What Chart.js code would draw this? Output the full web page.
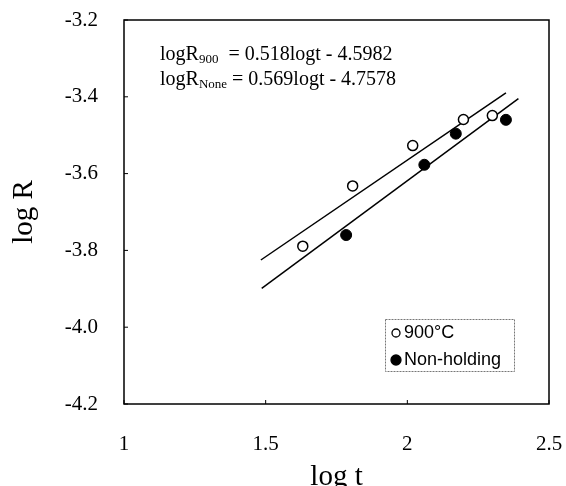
<!DOCTYPE html>
<html lang="en">
<head>
    <meta charset="UTF-8">
    <title>log R vs log t</title>
    <script src="https://cdn.jsdelivr.net/npm/chart.js"></script>
    <style>
        body {
            margin: 0;
            background: #ffffff;
        }

        .chart-box {
            width: 566px;
            height: 486px;
        }
    </style>
</head>
<body>
    <div class="chart-box"><canvas id="rateChart"></canvas></div>

    <script>
        const t900 = [1.631, 1.807, 2.019, 2.198, 2.300];
        const r900 = [-3.789, -3.632, -3.527, -3.459, -3.449];
        const tNone = [1.784, 2.060, 2.171, 2.348];
        const rNone = [-3.760, -3.577, -3.496, -3.460];

        // end points of the two fitted lines
        const fitT900 = [1.483, 2.348];
        const fitR900 = [-3.825, -3.39];
        const fitTNone = [1.486, 2.392];
        const fitRNone = [-3.899, -3.405];

        const xTicks = [1, 1.5, 2, 2.5];
        const yTicks = [-3.2, -3.4, -3.6, -3.8, -4.0, -4.2];

        const toPoints = (xs, ys) => xs.map((x, i) => ({ x: x, y: ys[i] }));

        // box round the plot, small inward ticks, equations and the legend
        const frame = {
            id: 'frame',
            afterDraw(chart) {
                const ctx = chart.ctx;
                const a = chart.chartArea;
                const xs = chart.scales.x;
                const ys = chart.scales.y;
                ctx.save();
                ctx.strokeStyle = '#000';
                ctx.lineWidth = 1.5;
                ctx.strokeRect(a.left, a.top, a.right - a.left, a.bottom - a.top);

                ctx.lineWidth = 1;
                xTicks.forEach(v => {
                    const px = xs.getPixelForValue(v);
                    ctx.beginPath();
                    ctx.moveTo(px, a.bottom);
                    ctx.lineTo(px, a.bottom - 4);
                    ctx.stroke();
                });
                yTicks.forEach(v => {
                    const py = ys.getPixelForValue(v);
                    ctx.beginPath();
                    ctx.moveTo(a.left, py);
                    ctx.lineTo(a.left + 4, py);
                    ctx.stroke();
                });

                // equations
                ctx.fillStyle = '#000';
                ctx.textBaseline = 'alphabetic';
                const eq = (y, sub, rest) => {
                    let x = 160;
                    ctx.font = '20px "Liberation Serif"';
                    ctx.fillText('logR', x, y);
                    x += ctx.measureText('logR').width;
                    ctx.font = '13px "Liberation Serif"';
                    ctx.fillText(sub, x, y + 3);
                    x += ctx.measureText(sub).width;
                    ctx.font = '20px "Liberation Serif"';
                    ctx.fillText(rest, x, y);
                };
                eq(60, '900', '  = 0.518logt - 4.5982');
                eq(85, 'None', ' = 0.569logt - 4.7578');

                // legend
                ctx.strokeStyle = '#777';
                ctx.lineWidth = 1;
                ctx.setLineDash([2, 1]);
                ctx.strokeRect(385.5, 319.5, 129, 52);
                ctx.setLineDash([]);
                ctx.font = '18px "Liberation Sans"';
                ctx.textBaseline = 'middle';
                const items = chart.data.datasets.filter(d => d.pointRadius > 0);
                items.forEach((d, i) => {
                    const cy = 333 + i * 27;
                    ctx.beginPath();
                    ctx.arc(396, cy, i === 0 ? 4 : 5, 0, Math.PI * 2);
                    ctx.fillStyle = d.backgroundColor;
                    ctx.fill();
                    ctx.strokeStyle = '#000';
                    ctx.lineWidth = 1.3;
                    ctx.stroke();
                    ctx.fillStyle = '#000';
                    ctx.fillText(d.label, 404, cy);
                });
                ctx.restore();
            }
        };

        new Chart(document.getElementById('rateChart'), {
            type: 'scatter',
            data: {
                datasets: [
                    {
                        label: '900°C',
                        data: toPoints(t900, r900),
                        pointRadius: 5,
                        pointBorderWidth: 1.5,
                        borderColor: '#000',
                        backgroundColor: '#fff'
                    },
                    {
                        label: 'Non-holding',
                        data: toPoints(tNone, rNone),
                        pointRadius: 5.5,
                        pointBorderWidth: 1,
                        borderColor: '#000',
                        backgroundColor: '#000'
                    },
                    {
                        label: 'fit 900',
                        data: toPoints(fitT900, fitR900),
                        showLine: true,
                        pointRadius: 0,
                        borderWidth: 1.5,
                        borderColor: '#000'
                    },
                    {
                        label: 'fit None',
                        data: toPoints(fitTNone, fitRNone),
                        showLine: true,
                        pointRadius: 0,
                        borderWidth: 1.5,
                        borderColor: '#000'
                    }
                ]
            },
            options: {
                responsive: true,
                maintainAspectRatio: false,
                animation: false,
                layout: { padding: { left: 0, right: 17, top: 20, bottom: 0 } },
                plugins: {
                    legend: { display: false },
                    tooltip: { enabled: false }
                },
                scales: {
                    x: {
                        type: 'linear',
                        min: 1,
                        max: 2.5,
                        afterBuildTicks: s => { s.ticks = xTicks.map(v => ({ value: v })); },
                        afterFit: s => {
                            s.height = 82;
                            s.paddingLeft = 0;
                            s.paddingRight = 0;
                        },
                        grid: { display: false, drawTicks: false },
                        border: { display: false },
                        ticks: {
                            padding: 28,
                            color: '#000',
                            font: { family: 'Liberation Serif', size: 21 },
                            callback: v => String(v)
                        },
                        title: {
                            display: true,
                            text: 'log t',
                            color: '#000',
                            font: { family: 'Liberation Serif', size: 29, lineHeight: 1 },
                            padding: { top: 0, bottom: -6 }
                        }
                    },
                    y: {
                        min: -4.2,
                        max: -3.2,
                        afterBuildTicks: s => { s.ticks = yTicks.map(v => ({ value: v })); },
                        afterFit: s => {
                            s.width = 124;
                            s.paddingTop = 0;
                            s.paddingBottom = 0;
                        },
                        grid: { display: false, drawTicks: false },
                        border: { display: false },
                        ticks: {
                            padding: 26,
                            color: '#000',
                            font: { family: 'Liberation Serif', size: 21 },
                            callback: v => v.toFixed(1)
                        },
                        title: {
                            display: true,
                            text: 'log R',
                            color: '#000',
                            font: { family: 'Liberation Serif', size: 29, lineHeight: 1 },
                            padding: { top: 10, bottom: 0 }
                        }
                    }
                }
            },
            plugins: [frame]
        });
    </script>
</body>
</html>
